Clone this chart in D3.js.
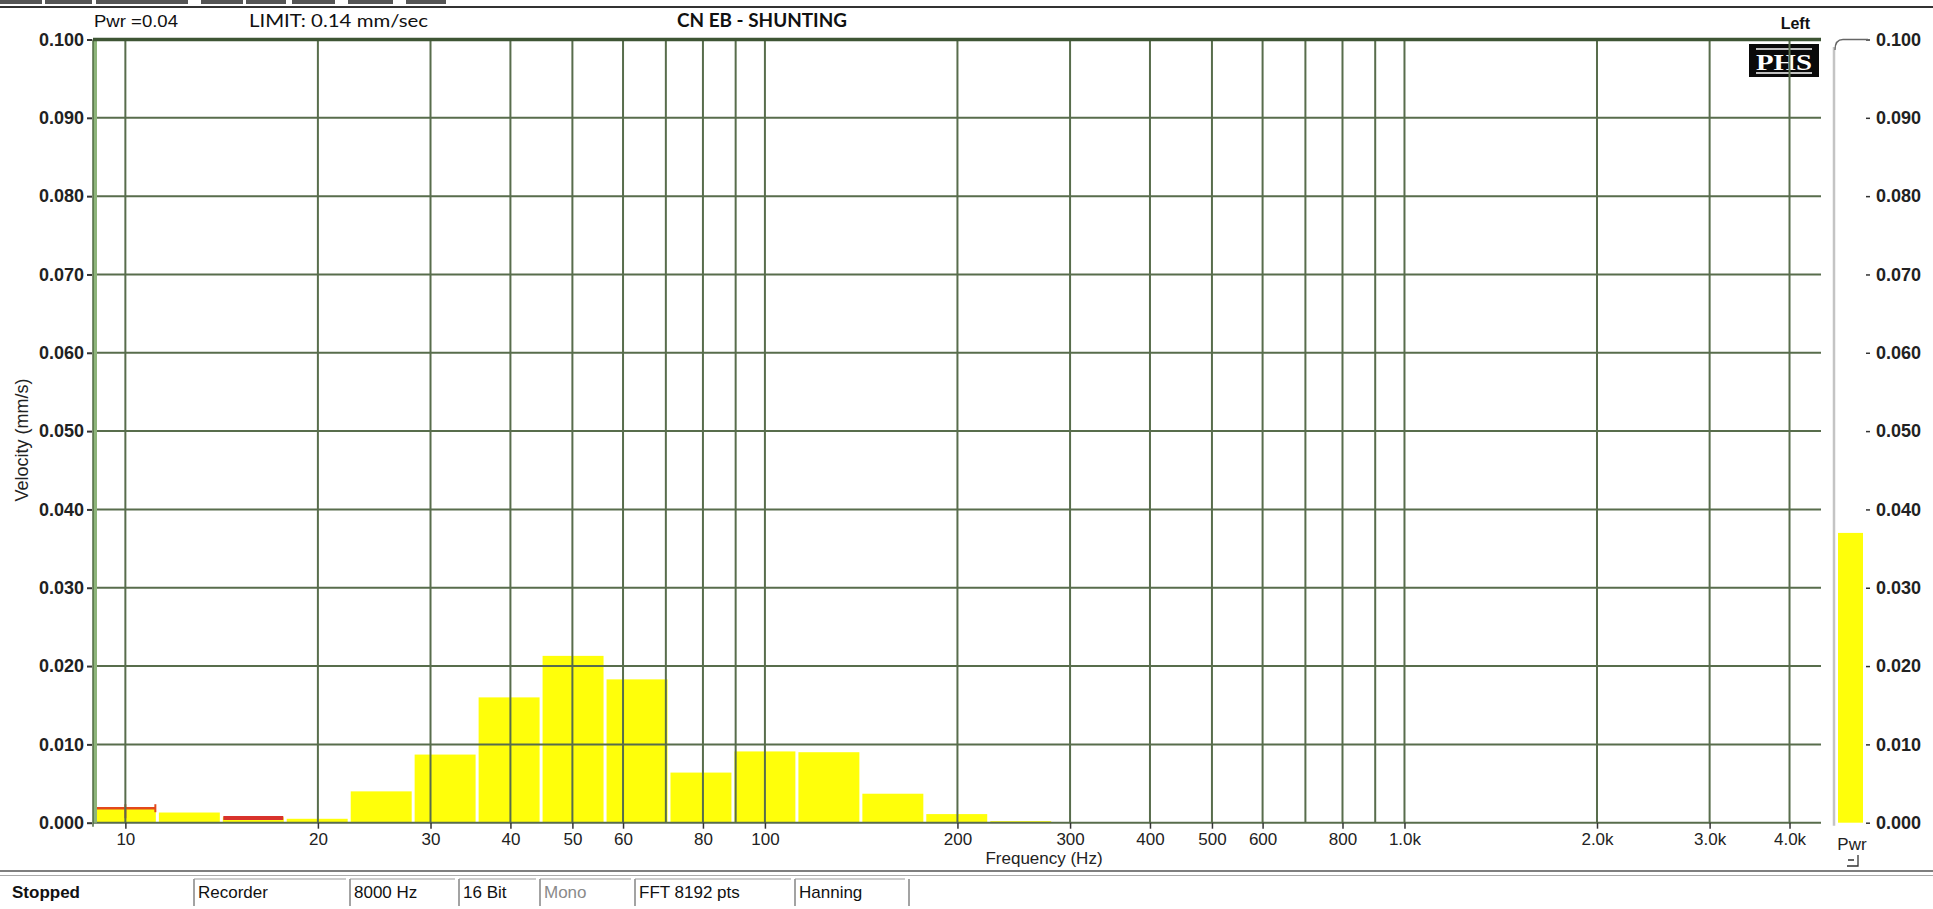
<!DOCTYPE html>
<html>
<head>
<meta charset="utf-8">
<script src="https://cdn.jsdelivr.net/npm/d3@7"></script>
<style>
  html, body { margin: 0; padding: 0; background: #fff; }
  svg { display: block; }
  text { font-family: "Liberation Sans", Arial, sans-serif; }
</style>
</head>
<body>
<svg id="chart" width="1933" height="909"></svg>
<script>
// ---------- DATA ----------
const bandCenters = [10, 12.59, 15.85, 19.95, 25.12, 31.62, 39.81, 50.12, 63.10, 79.43, 100, 125.9, 158.5, 199.5, 251.2];
const velocities  = [0.0018, 0.0013, 0.0007, 0.0005, 0.0040, 0.0087, 0.0160, 0.0213, 0.0183, 0.0064, 0.0091, 0.0090, 0.0037, 0.0011, 0.0002];
const peakBands   = [10, 15.85];
const peakValues  = [0.00185, 0.0006];
const pwrValue    = 0.037;

const xTickValues = [10, 20, 30, 40, 50, 60, 80, 100, 200, 300, 400, 500, 600, 800, 1000, 2000, 3000, 4000];
const xTickLabels = ["10", "20", "30", "40", "50", "60", "80", "100", "200", "300", "400", "500", "600", "800", "1.0k", "2.0k", "3.0k", "4.0k"];
const xGridValues = [10, 20, 30, 40, 50, 60, 70, 80, 90, 100, 200, 300, 400, 500, 600, 700, 800, 900, 1000, 2000, 3000, 4000];
const yTickValues = [0, 0.01, 0.02, 0.03, 0.04, 0.05, 0.06, 0.07, 0.08, 0.09, 0.1];

const headerTexts = ["Pwr =0.04", "LIMIT: 0.14 mm/sec", "CN EB - SHUNTING", "Left"];
const statusLabels = ["Stopped", "Recorder", "8000 Hz", "16 Bit", "Mono", "FFT 8192 pts", "Hanning"];

// ---------- LAYOUT ----------
const svg = d3.select("#chart");
const plot = { left: 93, right: 1821, top: 39.5, bottom: 822.7 };

const x = d3.scaleLog().domain([8.9, 4480]).range([plot.left, plot.right]);
const y = d3.scaleLinear().domain([0, 0.1]).range([plot.bottom, plot.top]);

const gridColor = "#586d4c";
const barColor = "#ffff0a";

// top decoration (window chrome remnants)
const chromeSegs = [[0, 42], [45, 92], [96, 188], [201, 243], [246, 286], [292, 335], [348, 393], [406, 446]];
svg.selectAll("rect.chrome").data(chromeSegs).join("rect")
  .attr("x", d => d[0]).attr("y", 0).attr("width", d => d[1] - d[0]).attr("height", 4)
  .attr("fill", "#555");
svg.append("line").attr("x1", 0).attr("x2", 1933).attr("y1", 7).attr("y2", 7)
  .attr("stroke", "#333").attr("stroke-width", 2);

// ---------- BARS ----------
const half = Math.pow(10, 0.05);
svg.append("g").selectAll("rect").data(bandCenters).join("rect")
  .attr("x", d => x(d / half) + 1.5)
  .attr("width", d => x(d * half) - x(d / half) - 3)
  .attr("y", (d, i) => y(velocities[i]))
  .attr("height", (d, i) => y(0) - y(velocities[i]))
  .attr("fill", barColor);

// peak-hold markers
const pk = svg.append("g");
peakBands.forEach((f, i) => {
  const x0 = x(f / half) + 2, x1 = x(f * half) - 2, yy = y(peakValues[i]);
  pk.append("line").attr("x1", x0).attr("x2", x1).attr("y1", yy).attr("y2", yy)
    .attr("stroke", i === 0 ? "#e2491c" : "#d8322c").attr("stroke-width", i === 0 ? 2.5 : 4);
});
{
  const f = peakBands[0], yy = y(peakValues[0]);
  [x(f / half) + 2, x(f), x(f * half) - 2].forEach((xx, j) => {
    pk.append("line").attr("x1", xx).attr("x2", xx)
      .attr("y1", yy - 4).attr("y2", yy + (j === 1 ? 10 : 4))
      .attr("stroke", "#e2491c").attr("stroke-width", 2);
  });
}

// ---------- PHS logo ----------
const logo = svg.append("g");
logo.append("rect").attr("x", 1749).attr("y", 44).attr("width", 70).attr("height", 33).attr("fill", "#0a0a0a");
logo.append("text").attr("x", 1784).attr("y", 70).attr("text-anchor", "middle")
  .style("font-family", "'Liberation Serif', 'DejaVu Serif', serif").style("font-weight", "bold")
  .style("font-size", "24px").attr("fill", "#fff").attr("textLength", 56).attr("lengthAdjust", "spacingAndGlyphs").text("PHS");
logo.append("line").attr("x1", 1756).attr("x2", 1812).attr("y1", 49).attr("y2", 49).attr("stroke", "#fff").attr("stroke-width", 1.5);
logo.append("line").attr("x1", 1756).attr("x2", 1812).attr("y1", 73).attr("y2", 73).attr("stroke", "#fff").attr("stroke-width", 1.5);

// ---------- GRID ----------
const grid = svg.append("g");
grid.selectAll("line.v").data(xGridValues).join("line")
  .attr("x1", d => x(d)).attr("x2", d => x(d))
  .attr("y1", plot.top).attr("y2", plot.bottom)
  .attr("stroke", gridColor).attr("stroke-width", 2);
grid.selectAll("line.h").data(yTickValues).join("line")
  .attr("x1", plot.left).attr("x2", plot.right)
  .attr("y1", d => y(d)).attr("y2", d => y(d))
  .attr("stroke", gridColor).attr("stroke-width", 2);
// borders
svg.append("rect").attr("x", plot.left).attr("y", plot.top).attr("width", 4).attr("height", plot.bottom - plot.top)
  .attr("fill", "#8db47a");
svg.append("line").attr("x1", plot.left).attr("x2", plot.left).attr("y1", plot.top).attr("y2", plot.bottom + 4)
  .attr("stroke", "#4f6a42").attr("stroke-width", 1.5);
svg.append("line").attr("x1", plot.left).attr("x2", plot.right).attr("y1", plot.top).attr("y2", plot.top)
  .attr("stroke", "#3e5534").attr("stroke-width", 3.5);

// ---------- AXES ----------
const xAxis = d3.axisBottom(x).tickValues(xTickValues).tickFormat((d, i) => xTickLabels[i]).tickSize(6).tickPadding(4);
const gx = svg.append("g").attr("transform", `translate(0,${plot.bottom})`).call(xAxis);
gx.select(".domain").remove();
gx.selectAll(".tick line").attr("stroke", "#333").attr("stroke-width", 1.5);
gx.selectAll(".tick text").style("font-size", "17px").attr("fill", "#222");

const yAxis = d3.axisLeft(y).tickValues(yTickValues).tickFormat(d3.format(".3f")).tickSize(5).tickPadding(3);
const gy = svg.append("g").attr("transform", `translate(${plot.left - 1},0)`).call(yAxis);
gy.select(".domain").remove();
gy.selectAll(".tick line").attr("stroke", "#333").attr("stroke-width", 2);
gy.selectAll(".tick text").style("font-size", "18px").style("font-weight", "bold").attr("fill", "#222");

// right (Pwr) axis
const yAxisR = d3.axisRight(y).tickValues(yTickValues).tickFormat(d3.format(".3f")).tickSize(4).tickPadding(6);
const gr = svg.append("g").attr("transform", "translate(1866,0)").call(yAxisR);
gr.select(".domain").remove();
gr.selectAll(".tick line").attr("stroke", "#333").attr("stroke-width", 1.5);
gr.selectAll(".tick text").style("font-size", "18px").style("font-weight", "bold").attr("fill", "#222");

// Pwr meter
svg.append("line").attr("x1", 1834).attr("x2", 1834).attr("y1", 47).attr("y2", plot.bottom + 3)
  .attr("stroke", "#c4c4c4").attr("stroke-width", 2.5);
svg.append("path").attr("d", `M1835,50 Q1835,${plot.top} 1843,${plot.top} L1868,${plot.top}`)
  .attr("fill", "none").attr("stroke", "#666").attr("stroke-width", 1.3);
svg.append("rect").attr("x", 1838).attr("width", 25)
  .attr("y", y(pwrValue)).attr("height", y(0) - y(pwrValue)).attr("fill", barColor);
svg.append("text").attr("x", 1852).attr("y", 850).attr("text-anchor", "middle")
  .style("font-size", "17px").attr("fill", "#222").text("Pwr");
svg.append("path").attr("d", "M1858,855 L1858,866 L1847,866 M1848,860 L1854,860")
  .attr("fill", "none").attr("stroke", "#333").attr("stroke-width", 1.3);

// axis titles
svg.append("text").attr("transform", "translate(28,440) rotate(-90)").attr("text-anchor", "middle")
  .style("font-size", "18px").attr("fill", "#222").text("Velocity (mm/s)");
svg.append("text").attr("x", 1044).attr("y", 864).attr("text-anchor", "middle")
  .style("font-size", "17px").attr("fill", "#222").text("Frequency (Hz)");

// header texts
svg.append("text").attr("x", 94).attr("y", 27).style("font-size", "17px").attr("fill", "#111")
  .attr("textLength", 84).attr("lengthAdjust", "spacingAndGlyphs").text(headerTexts[0]);
svg.append("text").attr("x", 249).attr("y", 27).style("font-family", "Lato, 'Open Sans', sans-serif").style("font-size", "18px").attr("fill", "#111")
  .attr("textLength", 179).attr("lengthAdjust", "spacingAndGlyphs").text(headerTexts[1]);
svg.append("text").attr("x", 677).attr("y", 27).style("font-family", "Lato, 'Open Sans', sans-serif").style("font-weight", "bold").style("font-size", "18px").attr("fill", "#111")
  .attr("textLength", 170).attr("lengthAdjust", "spacingAndGlyphs").text(headerTexts[2]);
svg.append("text").attr("x", 1810).attr("y", 29).attr("text-anchor", "end").style("font-weight", "bold").style("font-size", "16px").attr("fill", "#111")
  .text(headerTexts[3]);

// ---------- STATUS BAR ----------
svg.append("line").attr("x1", 0).attr("x2", 1933).attr("y1", 871).attr("y2", 871).attr("stroke", "#555").attr("stroke-width", 1.5);
svg.append("line").attr("x1", 0).attr("x2", 1933).attr("y1", 875.5).attr("y2", 875.5).attr("stroke", "#aaa").attr("stroke-width", 1);
const cellX = [12, 198, 354, 463, 544, 639, 799];
const dividers = [194, 350, 459, 540, 635, 795, 909];
svg.selectAll("line.div").data(dividers).join("line")
  .attr("x1", d => d).attr("x2", d => d).attr("y1", 879).attr("y2", 906)
  .attr("stroke", "#666").attr("stroke-width", 1.2);
svg.selectAll("line.ctop").data(dividers.slice(0, -1)).join("line")
  .attr("x1", d => d).attr("x2", (d, i) => dividers[i + 1] - 4).attr("y1", 879).attr("y2", 879)
  .attr("stroke", "#999").attr("stroke-width", 1);
svg.selectAll("text.status").data(statusLabels).join("text")
  .attr("x", (d, i) => cellX[i]).attr("y", 898)
  .style("font-size", "17px").style("font-weight", (d, i) => i === 0 ? "bold" : "normal")
  .attr("fill", (d, i) => i === 4 ? "#8a8a8a" : "#111")
  .text(d => d);
</script>
</body>
</html>
